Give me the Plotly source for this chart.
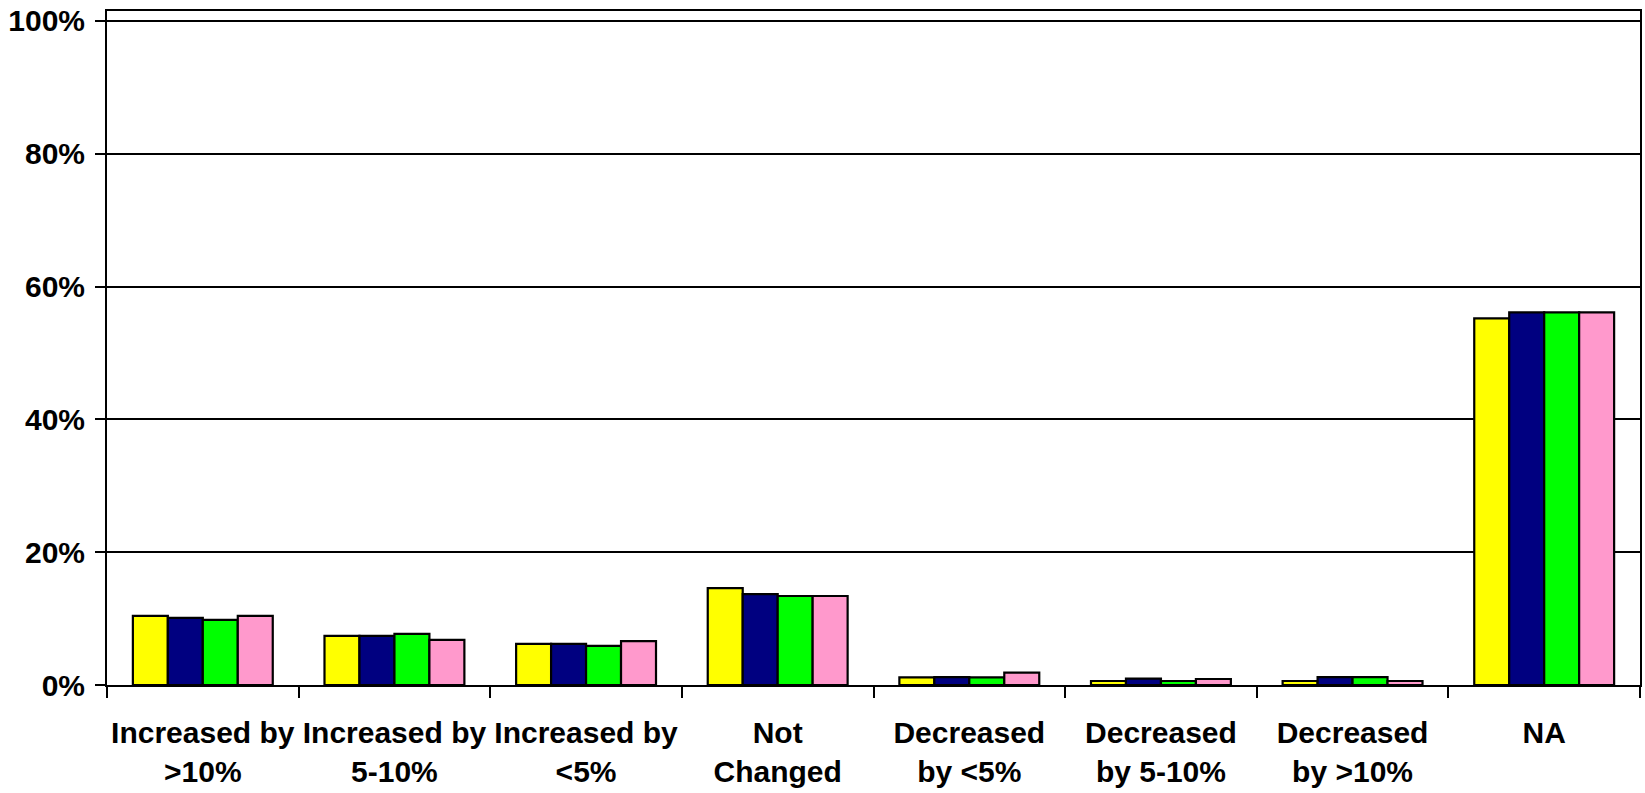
import plotly.graph_objects as go

categories = ["Increased by<br>>10%", "Increased by<br>5-10%", "Increased by<br><5%", "Not<br>Changed",
              "Decreased<br>by <5%", "Decreased<br>by 5-10%", "Decreased<br>by >10%", "NA"]
series_names = ["Series 1", "Series 2", "Series 3", "Series 4"]
series_1 = [10.4, 7.4, 6.2, 14.6, 1.15, 0.6, 0.6, 55.2]
series_2 = [10.1, 7.4, 6.2, 13.7, 1.2, 0.95, 1.2, 56.1]
series_3 = [9.8, 7.7, 5.9, 13.4, 1.15, 0.6, 1.2, 56.1]
series_4 = [10.4, 6.8, 6.6, 13.4, 1.85, 0.9, 0.6, 56.1]
colors = ["#FFFF00", "#000080", "#00FF00", "#FF99CC"]
y_ticks = [0, 20, 40, 60, 80, 100]
y_tick_labels = ["0%", "20%", "40%", "60%", "80%", "100%"]

fig = go.Figure()
for name, vals, col in zip(series_names, [series_1, series_2, series_3, series_4], colors):
    fig.add_trace(go.Bar(x=categories, y=vals, name=name,
                         marker=dict(color=col, line=dict(color="black", width=2.2))))

fig.update_layout(
    barmode="group", bargap=0.27, bargroupgap=0,
    showlegend=False,
    plot_bgcolor="white", paper_bgcolor="white",
    width=1645, height=793,
    margin=dict(l=107, r=5, t=11, b=108, autoexpand=False),
    font=dict(family="Liberation Sans, Arial, sans-serif", color="black"),
)
fig.update_yaxes(range=[0, 101.5], tickvals=y_ticks, ticktext=y_tick_labels,
                 showgrid=True, gridcolor="black", gridwidth=1.5,
                 showline=True, linecolor="black", linewidth=2, mirror=True,
                 ticks="outside", ticklen=10, tickwidth=1.5, tickcolor="black",
                 ticklabelstandoff=4, automargin=False,
                 tickfont=dict(size=30, family="Liberation Sans, Arial, sans-serif", weight="bold"),
                 zeroline=False, fixedrange=True)
fig.update_xaxes(showline=True, linecolor="black", linewidth=2, mirror=True,
                 ticks="outside", ticklen=11, tickwidth=1.5, tickcolor="black",
                 tickson="boundaries", showgrid=False, automargin=False,
                 ticklabelstandoff=20,
                 tickfont=dict(size=30, family="Liberation Sans, Arial, sans-serif", weight="bold"),
                 tickangle=0, fixedrange=True)

fig.write_html("out.html", config={"displayModeBar": False},
               post_script="document.body.style.margin='0';document.body.style.overflow='hidden';")
